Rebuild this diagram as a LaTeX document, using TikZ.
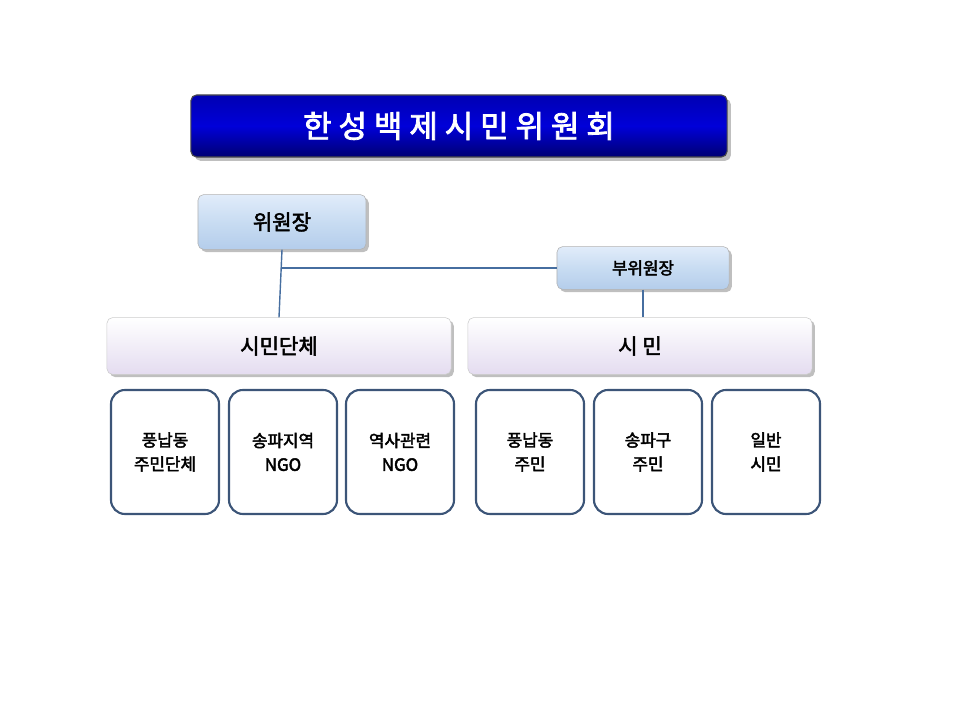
\documentclass[tikz,border=0pt]{standalone}
\usepackage{fontspec}
\setmainfont{Noto Sans CJK KR}[AutoFakeBold=2.5]
\usetikzlibrary{shadows}
\begin{document}
\begin{tikzpicture}[x=0.025cm,y=-0.025cm,
  title/.style={draw=black!70,line width=0.8pt,rounded corners=4pt,top color=blue!70!black,bottom color=blue!45!black,middle color=blue!85!black,text=white,font=\bfseries\fontsize{22}{26}\selectfont,drop shadow},
  head/.style={draw=gray!60,rounded corners=4pt,top color={rgb,255:red,225;green,236;blue,250},bottom color={rgb,255:red,180;green,205;blue,235},middle color={rgb,255:red,200;green,220;blue,242},font=\bfseries\fontsize{15}{18}\selectfont,drop shadow={shadow xshift=2pt,shadow yshift=-2pt}},
  grp/.style={draw=gray!40,rounded corners=4pt,top color=white,bottom color={rgb,255:red,228;green,220;blue,240},font=\bfseries\fontsize{15}{18}\selectfont,drop shadow={shadow xshift=2pt,shadow yshift=-2pt}},
  leaf/.style={draw={rgb,255:red,60;green,85;blue,120},line width=1.5pt,rounded corners=10pt,fill=white,font=\bfseries\fontsize{12}{17}\selectfont,align=center,inner sep=0pt},
  conn/.style={draw={rgb,255:red,70;green,110;blue,160},line width=1pt}]
\useasboundingbox (0,0) rectangle (960,720);
\node[title,minimum width=13.4cm,minimum height=1.55cm] (t) at (459,126) {한 성 백 제 시 민 위 원 회};
\node[head,minimum width=4.2cm,minimum height=1.37cm] (c) at (282,222) {위원장};
\node[head,minimum width=4.3cm,minimum height=1.07cm,font=\bfseries\fontsize{12}{14}\selectfont] (v) at (643,268) {부위원장};
\node[grp,minimum width=8.6cm,minimum height=1.42cm] (g1) at (279,346) {시민단체};
\node[grp,minimum width=8.6cm,minimum height=1.42cm] (g2) at (640,346) {시 민};
\coordinate (j) at (c.south |- v.west);
\draw[conn] (c.south) -- (g1.north);
\draw[conn] (j) -- (v.west);
\draw[conn] (v.south) -- (v.south |- g2.north);
\foreach \n/\x/\t in {a/165/{풍납동\\주민단체},b/283/{송파지역\\NGO},c2/400/{역사관련\\NGO},d/530/{풍납동\\주민},e/648/{송파구\\주민},f/766/{일반\\시민}}
  \node[leaf,minimum width=2.7cm,minimum height=3.1cm] (\n) at (\x,452) {\t};
\end{tikzpicture}
\end{document}
